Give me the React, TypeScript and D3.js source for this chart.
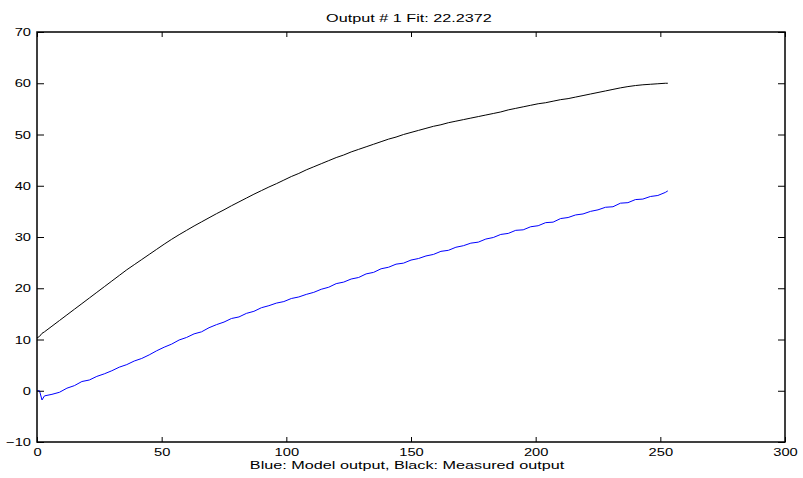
import React, { useEffect, useRef } from "react";
import * as d3 from "d3";

// sample index (x) shared by both outputs
const sampleX = [
  0, 1, 2, 3, 6, 9, 12, 15, 18, 21, 24, 27, 30, 33, 36, 39, 42, 45, 48, 51,
  54, 57, 60, 63, 66, 69, 72, 75, 78, 81, 84, 87, 90, 93, 96, 99, 102, 105,
  108, 111, 114, 117, 120, 123, 126, 129, 132, 135, 138, 141, 144, 147, 150,
  153, 156, 159, 162, 165, 168, 171, 174, 177, 180, 183, 186, 189, 192, 195,
  198, 201, 204, 207, 210, 213, 216, 219, 222, 225, 228, 231, 234, 237, 240,
  243, 246, 249, 252, 253,
];

// black: measured output
const measured = [
  10.3, 10.6, 11.2, 11.5, 12.6, 13.7, 14.8, 15.9, 17.0, 18.1, 19.2, 20.3,
  21.4, 22.5, 23.6, 24.6, 25.6, 26.6, 27.6, 28.6, 29.55, 30.45, 31.3, 32.15,
  32.95, 33.75, 34.55, 35.3, 36.1, 36.85, 37.6, 38.35, 39.05, 39.75, 40.4, 41.1,
  41.8, 42.4, 43.1, 43.7, 44.3, 44.9, 45.5, 46.0, 46.6, 47.1, 47.6, 48.1,
  48.6, 49.1, 49.5, 50.0, 50.4, 50.8, 51.2, 51.6, 51.9, 52.3, 52.6, 52.9,
  53.2, 53.5, 53.8, 54.1, 54.4, 54.8, 55.1, 55.4, 55.7, 56.0, 56.2, 56.5,
  56.8, 57.0, 57.3, 57.6, 57.9, 58.2, 58.5, 58.8, 59.1, 59.35, 59.55, 59.7,
  59.8, 59.9, 60.0, 60.0,
];

// blue: model output
const model = [
  0.0, 0.0, -1.8, -1.0, -0.7, -0.3, 0.5, 1.0, 1.8, 2.1, 2.8, 3.3, 3.9, 4.6,
  5.1, 5.8, 6.3, 7.0, 7.8, 8.5, 9.1, 9.9, 10.4, 11.1, 11.5, 12.3, 12.9, 13.4,
  14.1, 14.4, 15.1, 15.5, 16.2, 16.6, 17.1, 17.4, 18.0, 18.3, 18.8, 19.2,
  19.8, 20.2, 20.9, 21.2, 21.8, 22.1, 22.8, 23.1, 23.8, 24.1, 24.7, 24.9,
  25.5, 25.8, 26.3, 26.6, 27.2, 27.4, 28.0, 28.3, 28.8, 29.0, 29.6, 29.9,
  30.5, 30.7, 31.3, 31.4, 32.0, 32.2, 32.8, 32.9, 33.6, 33.8, 34.3, 34.5,
  35.0, 35.3, 35.8, 35.9, 36.6, 36.7, 37.3, 37.4, 37.9, 38.1, 38.7, 39.0,
];

const xTicks = [0, 50, 100, 150, 200, 250, 300];
const yTicks = [-10, 0, 10, 20, 30, 40, 50, 60, 70];

const titleText = "Output # 1 Fit: 22.2372";
const xLabelText = "Blue: Model output, Black: Measured output";

const W = 803;
const H = 478;
const FONT = "'Liberation Sans', Arial, Helvetica, sans-serif";
const FS = 11.5;
// the original export stretches text sideways
const TICK_STRETCH = 1.28;
const LABEL_STRETCH = 1.41;

export default function App() {
  const ref = useRef<SVGSVGElement>(null);

  useEffect(() => {
    const svg = d3.select(ref.current);
    svg.selectAll("*").remove();

    const left = 37, right = 785, top = 32, bottom = 442;

    const x = d3.scaleLinear().domain([0, 300]).range([left, right]);
    const y = d3.scaleLinear().domain([-10, 70]).range([bottom, top]);

    svg.append("rect").attr("width", W).attr("height", H).attr("fill", "#fff");

    // lines
    const n = Math.min(sampleX.length, measured.length, model.length);
    const idx = d3.range(n);
    const line = (vals: number[]) =>
      d3.line<number>()
        .x((i) => x(sampleX[i]))
        .y((i) => y(vals[i]))(idx);

    svg.append("path")
      .attr("d", line(model))
      .attr("fill", "none")
      .attr("stroke", "#0000ff")
      .attr("stroke-width", 1);

    svg.append("path")
      .attr("d", line(measured))
      .attr("fill", "none")
      .attr("stroke", "#000")
      .attr("stroke-width", 1);

    // axes, ticks pointing inwards like matlab
    const styleAxis = (g: any) => {
      g.select(".domain").remove();
      g.selectAll(".tick line").attr("stroke", "#000");
      g.selectAll(".tick text")
        .attr("fill", "#000")
        .attr("font-family", FONT)
        .attr("font-size", FS)
        .attr("transform", `scale(${TICK_STRETCH},1)`);
    };

    svg.append("g")
      .attr("transform", `translate(0,${bottom})`)
      .call(d3.axisBottom(x).tickValues(xTicks).tickSizeInner(-5).tickSizeOuter(0).tickPadding(6))
      .call(styleAxis);

    svg.append("g")
      .attr("transform", `translate(0,${top})`)
      .call(d3.axisTop(x).tickValues(xTicks).tickSizeInner(-5).tickSizeOuter(0).tickFormat(() => ""))
      .call(styleAxis);

    svg.append("g")
      .attr("transform", `translate(${left},0)`)
      .call(d3.axisLeft(y).tickValues(yTicks).tickSizeInner(-7).tickSizeOuter(0).tickPadding(6 / TICK_STRETCH))
      .call(styleAxis);

    svg.append("g")
      .attr("transform", `translate(${right},0)`)
      .call(d3.axisRight(y).tickValues(yTicks).tickSizeInner(-7).tickSizeOuter(0).tickFormat(() => ""))
      .call(styleAxis);

    // box
    svg.append("rect")
      .attr("x", left)
      .attr("y", top)
      .attr("width", right - left)
      .attr("height", bottom - top)
      .attr("fill", "none")
      .attr("stroke", "#000")
      .attr("stroke-width", 1.5);

    svg.append("text")
      .attr("transform", `translate(409,22) scale(${LABEL_STRETCH},1)`)
      .attr("text-anchor", "middle")
      .attr("font-family", FONT)
      .attr("font-size", FS)
      .text(titleText);

    svg.append("text")
      .attr("transform", `translate(407,469) scale(${LABEL_STRETCH},1)`)
      .attr("text-anchor", "middle")
      .attr("font-family", FONT)
      .attr("font-size", FS)
      .text(xLabelText);
  }, []);

  return (
    <svg
      ref={ref}
      width={W}
      height={H}
      style={{ position: "absolute", left: 0, top: 0 }}
    />
  );
}
